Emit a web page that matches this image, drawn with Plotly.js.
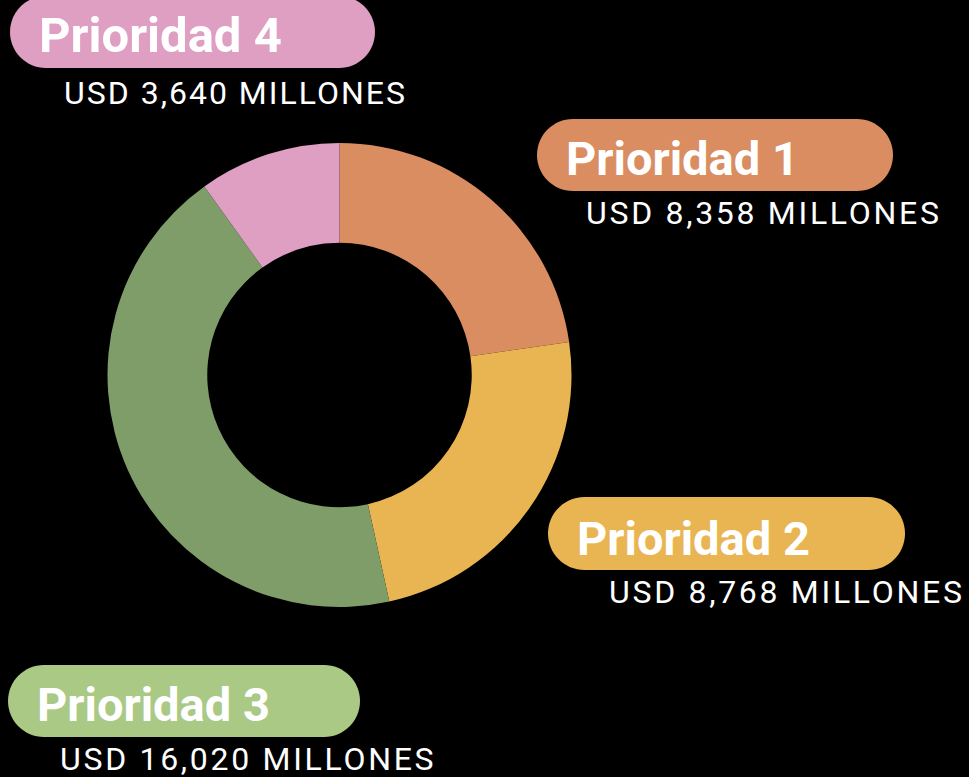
<!DOCTYPE html>
<html>
<head>
<meta charset="utf-8">
<script src="https://cdn.plot.ly/plotly-3.0.1.min.js"></script>
<style>html,body{margin:0;padding:0;background:#000;}#chart{width:969px;height:777px;}</style>
</head>
<body>
<div id="chart"></div>
<script>
const categories = ["Prioridad 1", "Prioridad 2", "Prioridad 3", "Prioridad 4"];
const values = [8358, 8768, 16020, 3640];
const valueLabels = ["USD 8,358 MILLONES", "USD 8,768 MILLONES", "USD 16,020 MILLONES", "USD 3,640 MILLONES"];
const sliceColors = ["#DA8D60", "#E9B553", "#7F9D69", "#DF9FC3"];
const pillColors = ["#DA8D60", "#E9B553", "#AAC985", "#DF9FC3"];

const W = 969, H = 777;
const px = x => x / W;
const py = y => 1 - y / H;

// pill boxes in pixels: [left, top, right, bottom]
const pills = [
  [537, 119, 893, 191],
  [548, 497, 905, 570],
  [8, 665, 360, 737],
  [10, -4, 375, 68]
];
const titlePos = [[565, 158], [576, 538], [36, 704], [38, 35.5]];
const titleSize = [47, 47, 47, 49];
const valuePos = [[585, 213], [608, 592], [59, 758.5], [63, 93]];
const valueSpacing = [2.7, 2.7, 2.7, 2.0];

function pillPath(b) {
  const [l, t, r, bt] = b;
  const rad = (bt - t) / 2;
  const k = 0.5523 * rad;
  const P = (x, y) => px(x) + ',' + py(y);
  let d = 'M' + P(l + rad, t);
  d += ' L' + P(r - rad, t);
  d += ' C' + P(r - rad + k, t) + ' ' + P(r, t + rad - k) + ' ' + P(r, t + rad);
  d += ' C' + P(r, t + rad + k) + ' ' + P(r - rad + k, bt) + ' ' + P(r - rad, bt);
  d += ' L' + P(l + rad, bt);
  d += ' C' + P(l + rad - k, bt) + ' ' + P(l, t + rad + k) + ' ' + P(l, t + rad);
  d += ' C' + P(l, t + rad - k) + ' ' + P(l + rad - k, t) + ' ' + P(l + rad, t);
  d += ' Z';
  return d;
}

const shapes = pills.map((b, i) => ({
  type: 'path', xref: 'paper', yref: 'paper', path: pillPath(b),
  fillcolor: pillColors[i], line: {width: 0}, layer: 'below'
}));

const annotations = [];
categories.forEach((c, i) => {
  annotations.push({
    text: c, xref: 'paper', yref: 'paper', x: px(titlePos[i][0]), y: py(titlePos[i][1]),
    xanchor: 'left', yanchor: 'middle', align: 'left', showarrow: false, borderpad: 0,
    font: {family: 'Roboto', size: titleSize[i], color: '#FFFFFF', weight: 700}
  });
  annotations.push({
    text: valueLabels[i], xref: 'paper', yref: 'paper', x: px(valuePos[i][0]), y: py(valuePos[i][1]),
    xanchor: 'left', yanchor: 'middle', align: 'left', showarrow: false, borderpad: 0,
    font: {family: 'Roboto', size: 32, color: '#FFFFFF'}
  });
});

const trace = {
  type: 'pie', labels: categories, values: values, hole: 0.57,
  sort: false, direction: 'clockwise', rotation: 0,
  marker: {colors: sliceColors, line: {width: 0}},
  textinfo: 'none', hoverinfo: 'none',
  domain: {x: [px(107), px(572)], y: [py(607), py(143)]}
};

Plotly.newPlot('chart', [trace], {
  width: W, height: H, margin: {l: 0, r: 0, t: 0, b: 0},
  paper_bgcolor: '#000000', plot_bgcolor: '#000000', showlegend: false,
  shapes: shapes, annotations: annotations
}, {displayModeBar: false, staticPlot: true}).then(() => {
  document.querySelectorAll('#chart .annotation-text').forEach(t => {
    const idx = valueLabels.indexOf(t.textContent);
    if (idx >= 0) t.style.letterSpacing = valueSpacing[idx] + 'px';
  });
});
</script>
</body>
</html>
